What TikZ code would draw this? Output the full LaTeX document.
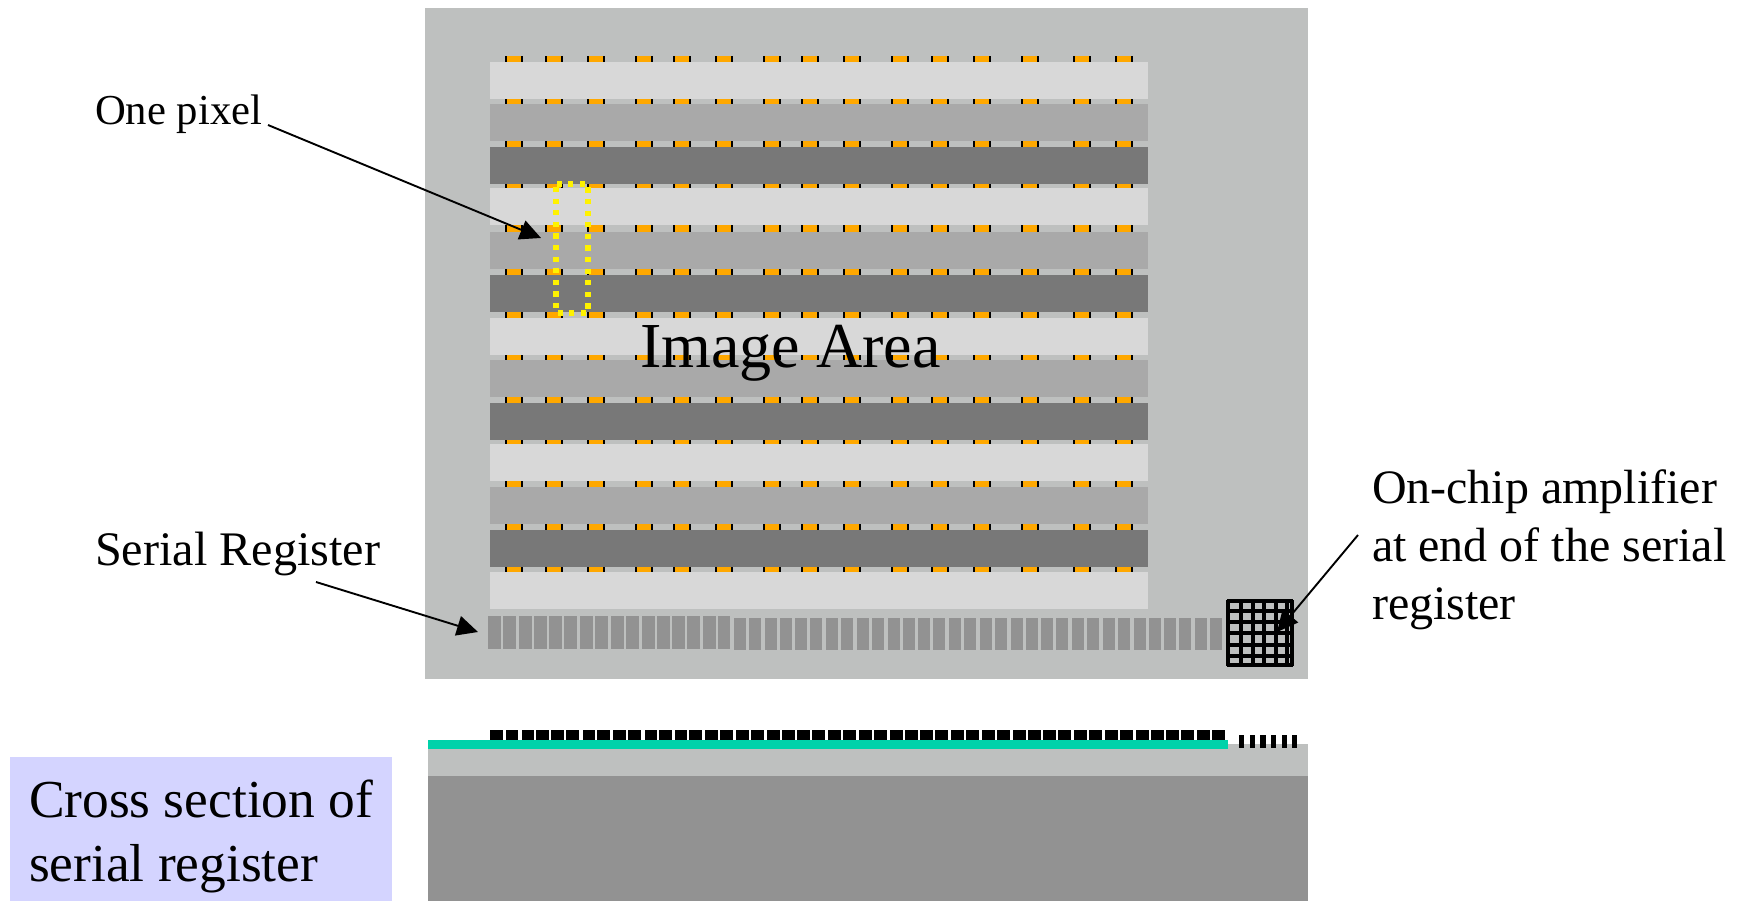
\documentclass[tikz,border=0pt]{standalone}
\usepackage{fontspec}
\setmainfont{Liberation Serif}
\usetikzlibrary{arrows.meta}
\definecolor{chipgrey}{HTML}{BEC0BF}
\definecolor{barlight}{HTML}{D8D8D8}
\definecolor{barmid}{HTML}{A9A9A9}
\definecolor{bardark}{HTML}{787878}
\definecolor{cellgrey}{HTML}{929292}
\definecolor{padorange}{HTML}{FFA800}
\definecolor{oxideteal}{HTML}{00D2AA}
\definecolor{boxblue}{HTML}{D4D4FF}
\tikzset{
  flat/.style={fill=#1,draw=none},
  lbl/.style={inner sep=0pt,outer sep=0pt,anchor=base west,text=black},
  blocklbl/.style={inner sep=0pt,outer sep=0pt,anchor=north west,align=left,text=black},
  pointer/.style={draw=black,line width=1.9pt,-{Triangle[length=21pt,width=20pt]}},
  gridline/.style={draw=black,line width=3.2pt},
}
\begin{document}
\begin{tikzpicture}[x=1pt,y=-1pt]
\useasboundingbox (0,0) rectangle (1748,901);
% chip
\fill[flat=chipgrey] (425,8.5) rectangle (1308,679);
% pads
\foreach \x in {505,545,587,635,673,715,763,801,843,891,931,973,1021,1073,1115}{
  \fill[flat=black] (\x,56) rectangle ++(18,544);
  \fill[flat=padorange] (\x+1.6,56) rectangle ++(14.8,544);
}
% image-area bars
\foreach \t/\c in {62/barlight,104/barmid,147/bardark,188/barlight,232/barmid,275/bardark,318/barlight,360/barmid,403/bardark,443.5/barlight,487/barmid,530/bardark,572/barlight}{
  \fill[flat=\c] (490,\t) rectangle (1148,\t+37.2);
}
% serial register, top view and cross section
\foreach \x in {488,503.3,519.3,534,549,564,580.3,595,611,626,642.3,657,672.3,687,703,717.7}{
  \fill[flat=cellgrey] (\x,616) rectangle ++(12.6,33);
  \fill[flat=black] (\x+2.2,730) rectangle ++(12.6,10.5);
}
\foreach \x in {734,749,765,780,795,810,826,841,857,872,888,903,918,933,949,964,980,995,1011,1026,1041,1056,1072,1087,1103,1118,1134,1149,1164,1179,1195,1210}{
  \fill[flat=cellgrey] (\x,618) rectangle ++(12.4,32);
  \fill[flat=black] (\x+2.2,730) rectangle ++(12.6,10.5);
}
% amplifier grid
\foreach \x in {1228,1241,1253,1264,1276,1287,1292}{\draw[gridline] (\x,600) -- (\x,666);}
\foreach \y in {601,611,622,633,645,656,665}{\draw[gridline] (1227,\y) -- (1293,\y);}
% cross section layers
\fill[flat=chipgrey] (428,749) rectangle (1228,776);
\fill[flat=chipgrey] (1228,744) rectangle (1308,776);
\fill[flat=cellgrey] (428,776) rectangle (1308,901);
\fill[flat=oxideteal] (428,740) rectangle (1228,749);
\foreach \x in {1239,1249.7,1260.3,1271,1281.6,1292}{
  \fill[flat=black] (\x,735) rectangle ++(5.3,13);
}
% one pixel marker
\draw[yellow,line width=5.2pt,dash pattern=on 5.2pt off 6.4pt,dash phase=-3pt] (556,184) rectangle (588,313);
% caption box
\fill[flat=boxblue] (10,757) rectangle (392,901);
% labels
\node[lbl,font=\fontsize{64.1}{70}\selectfont] (imagearea) at (640,367) {Image Area};
\node[lbl,font=\fontsize{42.7}{50}\selectfont] (onepixel) at (95,124.5) {One pixel};
\node[lbl,font=\fontsize{48.2}{56}\selectfont] (serial) at (95,565.5) {Serial Register};
\node[blocklbl,font=\fontsize{48}{58}\selectfont] (amp) at (1372,470) {On-chip amplifier\\at end of the serial\\register};
\node[blocklbl,font=\fontsize{53.4}{64}\selectfont] (cross) at (29,780) {Cross section of\\serial register};
% pointers
\coordinate (pixelfrom) at (268,125);
\coordinate (pixeltip) at (541,238);
\coordinate (serialfrom) at (316,582);
\coordinate (serialtip) at (478,632);
\coordinate (ampfrom) at (1358,535);
\coordinate (amptip) at (1277,632);
\draw[pointer] (pixelfrom) -- (pixeltip);
\draw[pointer] (serialfrom) -- (serialtip);
\draw[pointer] (ampfrom) -- (amptip);
\end{tikzpicture}
\end{document}
